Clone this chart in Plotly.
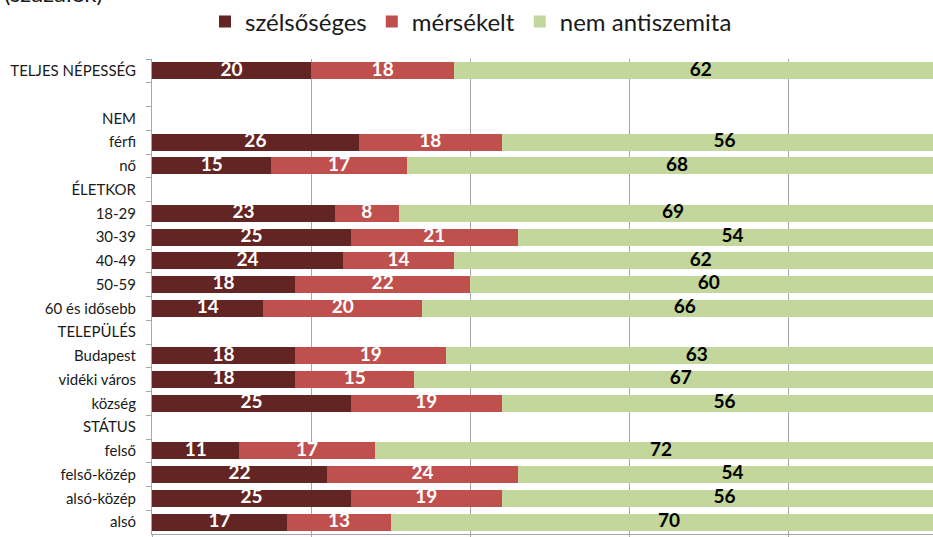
import plotly.graph_objects as go

categories = ["TELJES NÉPESSÉG", " ", "NEM", "férfi", "nő", "ÉLETKOR", "18-29", "30-39",
              "40-49", "50-59", "60 és idősebb", "TELEPÜLÉS", "Budapest", "vidéki város",
              "község", "STÁTUS", "felső", "felső-közép", "alsó-közép", "alsó"]
szelsoseges = [20, None, None, 26, 15, None, 23, 25, 24, 18, 14, None, 18, 18, 25, None, 11, 22, 25, 17]
mersekelt = [18, None, None, 18, 17, None, 8, 21, 14, 22, 20, None, 19, 15, 19, None, 17, 24, 19, 13]
nem_antiszemita = [62, None, None, 56, 68, None, 69, 54, 62, 60, 66, None, 63, 67, 56, None, 72, 54, 56, 70]

series = [
    ("szélsőséges", szelsoseges, "#632523", "white"),
    ("mérsékelt", mersekelt, "#C0504D", "white"),
    ("nem antiszemita", nem_antiszemita, "#C3D69B", "black"),
]

fig = go.Figure()
base = [0] * len(categories)
label_traces = []
for name, vals, color, tcolor in series:
    fig.add_trace(go.Bar(
        y=categories, x=vals, name=name, orientation="h",
        marker=dict(color=color, line=dict(width=0)), hoverinfo="skip",
    ))
    xs, ys, ts = [], [], []
    for i, v in enumerate(vals):
        if v is not None:
            xs.append(base[i] + v / 2)
            ys.append(categories[i])
            ts.append(str(v))
            base[i] += v
    label_traces.append(go.Scatter(
        x=xs, y=ys, text=ts, mode="text", showlegend=False, hoverinfo="skip",
        textfont=dict(family="Lato", size=19, color=tcolor, weight="bold"),
        textposition="middle center", cliponaxis=False,
    ))
for t in label_traces:
    fig.add_trace(t)

W, H = 933, 537
mt, mb, ml, mr = 59, 3, 152, 0
ph = H - mt - mb
n = len(categories)

fig.update_layout(
    width=W, height=H, barmode="stack", bargap=0.28,
    margin=dict(t=mt, b=mb, l=ml, r=mr, autoexpand=False),
    plot_bgcolor="white", paper_bgcolor="white",
    font=dict(family="Lato", size=15, color="#1a1a1a"),
    legend=dict(orientation="h", x=205 / W, xanchor="left", xref="container",
                y=1 - 22 / H, yanchor="middle", yref="container",
                font=dict(size=24, color="#1a1a1a"), itemwidth=30,
                traceorder="normal"),
    xaxis=dict(range=[0, 98.2], dtick=20, showgrid=True, gridcolor="#A6A6A6", gridwidth=1,
               showline=True, linecolor="#A6A6A6", ticks="outside", ticklen=5,
               tickcolor="#A6A6A6", showticklabels=False, zeroline=False, fixedrange=True,
               automargin=False),
    yaxis=dict(categoryorder="array", categoryarray=categories, range=[n - 0.5, -0.5],
               autorange=False,
               showline=True, linecolor="#A6A6A6", ticks="outside", ticklen=5,
               tickcolor="#A6A6A6", tickson="boundaries", showgrid=False,
               ticklabelstandoff=12,
               tickfont=dict(size=15, color="#1a1a1a"), fixedrange=True, automargin=False),
    annotations=[dict(text="(százalék)", xref="paper", yref="paper",
                      x=-(ml - 2) / (W - ml), xanchor="left",
                      y=1 + (mt - 9) / ph, yanchor="bottom", showarrow=False,
                      font=dict(size=24, color="#1a1a1a"))],
)

fig.write_html("out.html", post_script="document.body.style.margin='0px';",
               config={"displayModeBar": False})
